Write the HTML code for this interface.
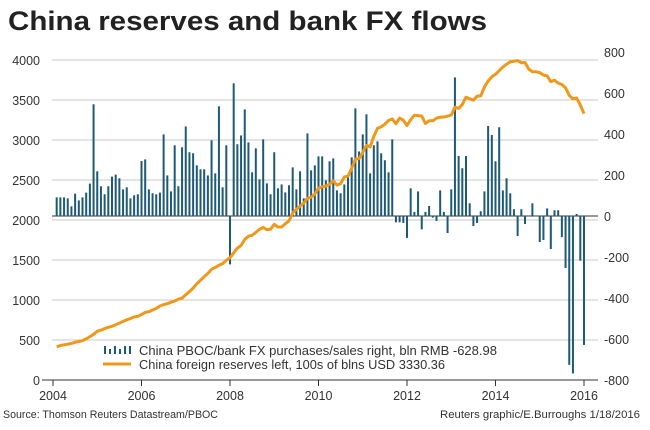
<!DOCTYPE html>
<html><head><meta charset="utf-8"><style>
html,body{margin:0;padding:0;background:#fff;}
body{width:650px;height:425px;overflow:hidden;font-family:"Liberation Sans",Arial,sans-serif;}
svg text{font-family:"Liberation Sans",Arial,sans-serif;}
</style></head><body>
<svg id="chart" width="650" height="425" viewBox="0 0 650 425" xmlns="http://www.w3.org/2000/svg">
<text x="8" y="30" font-size="27" font-weight="bold" fill="#222" textLength="479" lengthAdjust="spacingAndGlyphs">China reserves and bank FX flows</text>
<g id="grid"></g><g id="bars"></g><g id="line"></g><g id="axes"></g>
<g>
<g fill="#1d5a78">
<rect x="104" y="346" width="2" height="8"/><rect x="109" y="349" width="2" height="5"/><rect x="114" y="346" width="2" height="8"/><rect x="119" y="349" width="2" height="5"/><rect x="124" y="346" width="2" height="8"/><rect x="129" y="346" width="2" height="8"/>
</g>
<line x1="103" y1="364" x2="131" y2="364" stroke="#f0981a" stroke-width="3"/>
<text x="139" y="355" font-size="12.5" fill="#333" textLength="358" lengthAdjust="spacingAndGlyphs">China PBOC/bank FX purchases/sales right, bln RMB -628.98</text>
<text x="139" y="369" font-size="12.5" fill="#333" textLength="306" lengthAdjust="spacingAndGlyphs">China foreign reserves left, 100s of blns USD 3330.36</text>
</g>
<text x="3" y="418" font-size="11" fill="#333" textLength="215" lengthAdjust="spacingAndGlyphs">Source: Thomson Reuters Datastream/PBOC</text>
<text x="440" y="418" font-size="11" fill="#333" textLength="200" lengthAdjust="spacingAndGlyphs">Reuters graphic/E.Burroughs 1/18/2016</text>
</svg>
<script>
const flows = [91,91,91,86,47,109,76,91,114,158,545,218,
145,106,145,192,202,184,130,140,86,101,106,268,
276,130,111,106,114,398,198,120,345,145,335,437,
311,306,247,228,228,198,369,208,535,140,345,-236,
647,350,393,520,359,213,330,179,374,159,106,311,
135,154,115,150,237,130,218,86,403,223,247,291,
291,174,267,281,125,111,154,198,286,525,315,398,
496,208,345,364,306,272,213,374,-31,-31,-34,-107,
135,20,120,-65,20,49,-8,-24,125,20,-83,130,
676,293,233,293,62,-49,-34,23,120,439,395,267,
433,125,184,111,33,-98,33,-39,0,62,0,-127,
-117,37,-161,28,28,-103,-254,-726,-768,10,-218,-629];
const reserves = [415,431,440,448,457,471,482,492,514,542,571,610,
623,642,659,671,691,711,733,753,769,789,795,819,
845,854,875,895,925,941,954,972,988,1010,1024,1066,
1105,1149,1202,1246,1292,1333,1385,1408,1434,1455,1497,1528,
1590,1647,1682,1757,1797,1809,1845,1884,1906,1879,1885,1946,
1913,1912,1954,1989,2089,2132,2175,2211,2273,2284,2325,2399,
2415,2425,2447,2490,2436,2454,2538,2547,2648,2760,2768,2847,
2932,2914,3045,3145,3166,3198,3245,3262,3202,3274,3248,3181,
3254,3310,3305,3299,3206,3240,3240,3273,3285,3287,3298,3312,
3410,3395,3442,3535,3515,3497,3547,3553,3663,3736,3790,3821,
3866,3914,3948,3979,3984,3993,3966,3969,3887,3853,3852,3843,
3813,3802,3730,3748,3711,3694,3651,3557,3514,3526,3438,3330];
const leftTicks = [0,500,1000,1500,2000,2500,3000,3500,4000];
const rightTicks = [-800,-600,-400,-200,0,200,400,600,800];
const yearTicks = [2004,2006,2008,2010,2012,2014,2016];

const NS="http://www.w3.org/2000/svg";
function mk(tag,attrs,parent,txt){const e=document.createElementNS(NS,tag);for(const k in attrs)e.setAttribute(k,attrs[k]);if(txt!==undefined)e.textContent=txt;parent.appendChild(e);return e;}
const xYear = y => 53 + (y-2004)*44.25;
const xMonth = i => 53 + (i+1)*44.25/12;
const yLeft = v => 380 - v*0.08;
const yRight = v => 216 - v*0.205;

const grid=document.getElementById('grid'), axes=document.getElementById('axes');
leftTicks.forEach(v=>{
  const y=yLeft(v);
  if(v>0){const g=mk('line',{x1:52,x2:598,y1:y,y2:y,stroke:'#c8c8c8','stroke-width':1},grid);
  
  }
  const t=mk('text',{x:40,y:y+5,'font-size':12.5,fill:'#333','text-anchor':'end'},axes,String(v));
  
  
});
rightTicks.forEach(v=>{
  const t=mk('text',{x:604,y:yRight(v)+5,'font-size':12.5,fill:'#333'},axes,String(v));
  
  
});
const zl=mk('line',{x1:52,x2:598,y1:yRight(0),y2:yRight(0),stroke:'#333','stroke-width':1},grid);


const ax=mk('line',{x1:42,x2:598,y1:380,y2:380,stroke:'#333','stroke-width':1},axes);


yearTicks.forEach(yr=>{
  const x=xYear(yr);
  const tk=mk('line',{x1:x,x2:x,y1:380,y2:386,stroke:'#333'},axes);
  
  
  const t=mk('text',{x:x,y:400,'font-size':12.5,fill:'#333','text-anchor':'middle'},axes,String(yr));
  
  
});
const bars=document.getElementById('bars');
flows.forEach((v,i)=>{
  const x=xMonth(i)-1, y0=yRight(0), y1=yRight(v);
  const r=mk('rect',{x:x,y:Math.min(y0,y1),width:2,height:Math.max(0.5,Math.abs(y1-y0)),fill:'#1d5a78'},bars);
  
  
});
const pts=reserves.map((v,i)=>xMonth(i).toFixed(1)+','+yLeft(v).toFixed(1)).join(' ');
const pl=mk('polyline',{points:pts,fill:'none',stroke:'#f0981a','stroke-width':3,'stroke-linejoin':'round'},document.getElementById('line'));


</script>
</body></html>
